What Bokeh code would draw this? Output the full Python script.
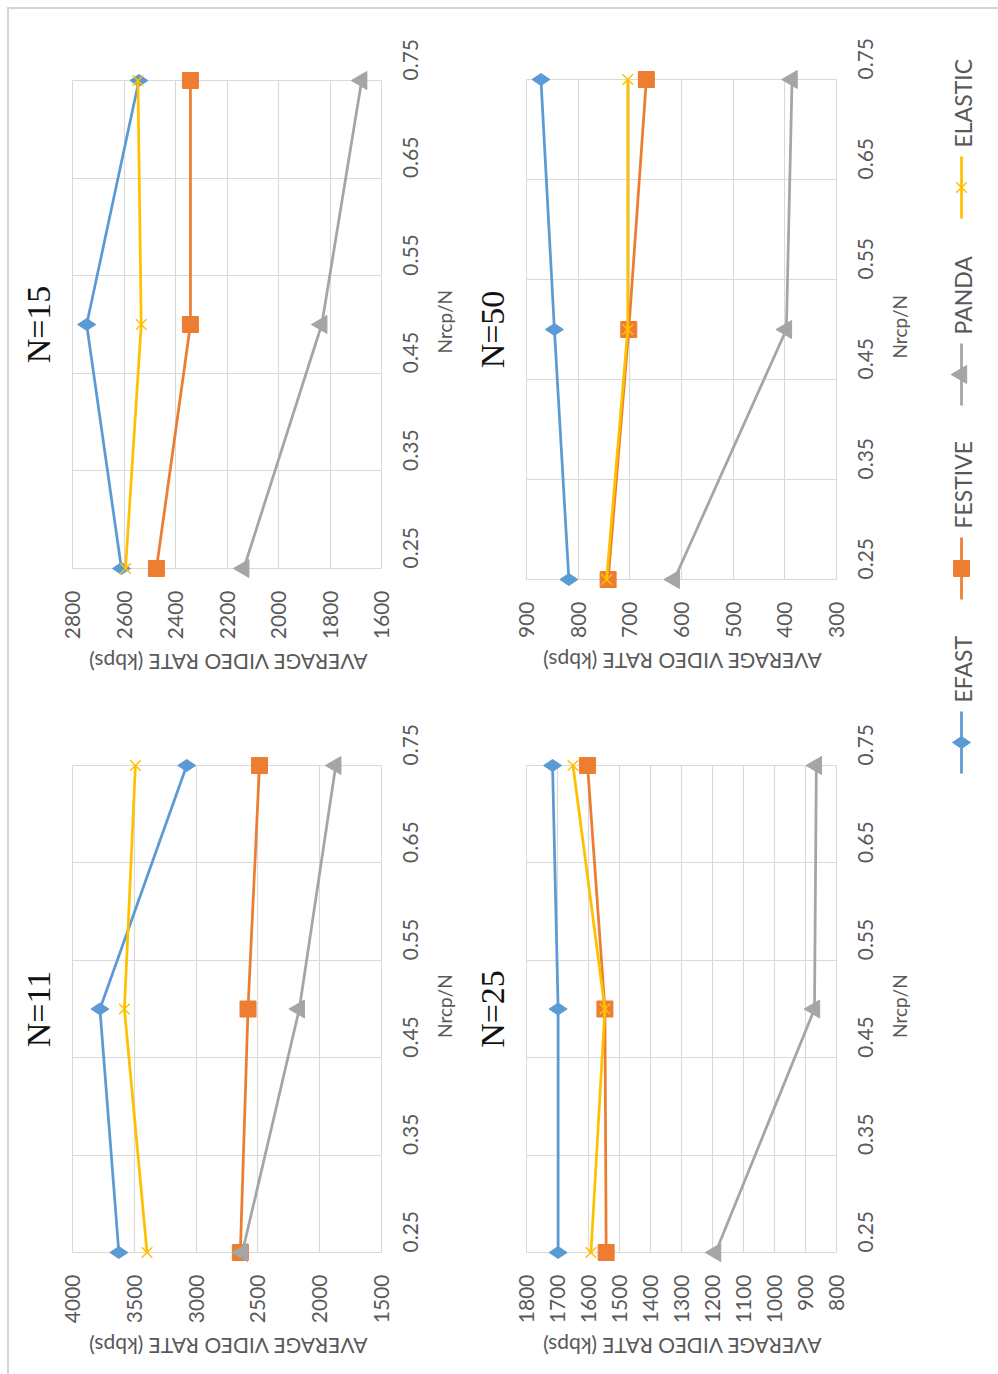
import math

from bokeh.plotting import figure
from bokeh.models import (Range1d, FixedTicker, Title, LinearAxis,
                          CustomJSTickFormatter)
from bokeh.layouts import row, column
from bokeh.embed import file_html
from bokeh.resources import INLINE
from bokeh.core.properties import value

# ---- data -----------------------------------------------------------------
ratio = [0.25, 0.50, 0.75]                      # Nrcp/N
ratio_ticks = [0.25, 0.35, 0.45, 0.55, 0.65, 0.75]

series_names = ["EFAST", "FESTIVE", "PANDA", "ELASTIC"]

# average video rate (kbps) per ratio, N = 11
n11_efast = [3625, 3778, 3076]
n11_festive = [2642, 2580, 2487]
n11_panda = [2626, 2165, 1870]
n11_elastic = [3397, 3580, 3491]
rate_ticks_n11 = [4000, 3500, 3000, 2500, 2000, 1500]

# N = 15
n15_efast = [2610, 2745, 2542]
n15_festive = [2474, 2342, 2342]
n15_panda = [2135, 1832, 1677]
n15_elastic = [2594, 2533, 2546]
rate_ticks_n15 = [2800, 2600, 2400, 2200, 2000, 1800, 1600]

# N = 25
n25_efast = [1698, 1698, 1716]
n25_festive = [1543, 1547, 1603]
n25_panda = [1190, 871, 865]
n25_elastic = [1592, 1547, 1650]
rate_ticks_n25 = [1800, 1700, 1600, 1500, 1400, 1300, 1200, 1100, 1000, 900, 800]

# N = 50
n50_efast = [818, 846, 872]
n50_festive = [742, 702, 668]
n50_panda = [614, 397, 386]
n50_elastic = [745, 704, 704]
rate_ticks_n50 = [900, 800, 700, 600, 500, 400, 300]

rate_axis_title = "AVERAGE VIDEO RATE (kbps)"
ratio_axis_title = "Nrcp/N"

# ---- styling --------------------------------------------------------------
COLORS = ["#5b9bd5", "#ed7d31", "#a5a5a5", "#ffc000"]
MARKERS = ["diamond", "square", "triangle", "x"]
MARKER_SIZES = [18, 16, 18, 15]
GRID = "#d9d9d9"
TEXT = "#595959"
FONT = "Lato"
ROT = math.pi / 2          # the whole sheet is turned a quarter turn


def plain_axis(ax, orientation, standoff, size):
    ax.axis_line_color = None
    ax.major_tick_line_color = None
    ax.minor_tick_line_color = None
    ax.major_tick_out = 0
    ax.major_tick_in = 0
    ax.major_label_orientation = orientation
    ax.major_label_standoff = standoff
    ax.major_label_text_font = FONT
    ax.major_label_text_font_size = size
    ax.major_label_text_color = TEXT


def title_axis(tick, label, orientation, standoff, size):
    """A tick-less axis whose single label carries the axis title."""
    ax = LinearAxis(ticker=FixedTicker(ticks=[tick]),
                    formatter=CustomJSTickFormatter(args=dict(label=label),
                                                    code="return label"))
    plain_axis(ax, orientation, standoff, size)
    return ax


def make_panel(title, values, rate_ticks, width, height, border):
    left, right, top, bottom = border
    frame_w = width - left - right
    frame_h = height - top - bottom
    r_max, r_min = max(rate_ticks), min(rate_ticks)
    y0, y1 = ratio_ticks[0], ratio_ticks[-1]
    p = figure(width=width, height=height,
               x_range=Range1d(r_max, r_min),
               y_range=Range1d(y0, y1),
               x_axis_location="below", y_axis_location="right",
               output_backend="svg", toolbar_location=None,
               min_border_left=left, min_border_right=right,
               min_border_top=top, min_border_bottom=bottom,
               border_fill_alpha=0, outline_line_color=GRID,
               outline_line_width=1)
    p.xaxis.ticker = FixedTicker(ticks=rate_ticks)
    p.yaxis.ticker = FixedTicker(ticks=ratio_ticks)
    plain_axis(p.xaxis[0], ROT, 22, "21px")
    plain_axis(p.yaxis[0], ROT, 29, "21px")

    for g in (p.xgrid[0], p.ygrid[0]):
        g.grid_line_color = GRID
        g.grid_line_width = 1.2

    # axis titles: the upside-down title ends 16 px in from the frame's
    # left edge, the turned ratio title starts 29 px below the frame centre
    px_x = (r_max - r_min) / frame_w
    px_y = (y1 - y0) / frame_h
    p.add_layout(title_axis(round(r_max - 16 * px_x), rate_axis_title,
                            math.pi, 20, "21px"), "below")
    p.add_layout(title_axis(round((y0 + y1) / 2 - 29 * px_y, 5), ratio_axis_title,
                            ROT, 16, "19px"), "right")

    p.add_layout(Title(text=title, text_font="Liberation Serif",
                       text_font_size="34px", text_font_style="normal",
                       text_color="#111111", align="center", standoff=32),
                 "left")

    for vals, color, marker, size in zip(values, COLORS, MARKERS, MARKER_SIZES):
        p.line(vals, ratio, line_color=color, line_width=2.75, level="overlay")
        p.scatter(vals, ratio, marker=marker, size=size, angle=ROT,
                  fill_color=color, line_color=color,
                  line_width=1.5 if marker == "x" else 1, level="overlay")
    return p


p15 = make_panel("N=15", [n15_efast, n15_festive, n15_panda, n15_elastic],
                 rate_ticks_n15, 470, 690, (72, 87, 80, 121))
p11 = make_panel("N=11", [n11_efast, n11_festive, n11_panda, n11_elastic],
                 rate_ticks_n11, 470, 684, (72, 87, 75, 120))
p50 = make_panel("N=50", [n50_efast, n50_festive, n50_panda, n50_elastic],
                 rate_ticks_n50, 485, 690, (70, 104, 79, 111))
p25 = make_panel("N=25", [n25_efast, n25_festive, n25_panda, n25_elastic],
                 rate_ticks_n25, 485, 684, (70, 104, 75, 120))

# ---- legend strip (entries read bottom to top) -----------------------------
LEG_W, LEG_H = 58, 1374
legend_centers = [742, 568, 374, 187]     # pixel rows of each legend sample
leg = figure(width=LEG_W, height=LEG_H,
             x_range=Range1d(0, LEG_W), y_range=Range1d(LEG_H, 0),
             x_axis_location=None, y_axis_location=None,
             output_backend="svg", toolbar_location=None,
             min_border=0, outline_line_color=None,
             background_fill_alpha=0, border_fill_alpha=0)
leg.grid.visible = False
for name, color, marker, size, yc in zip(series_names, COLORS, MARKERS,
                                         MARKER_SIZES, legend_centers):
    leg.segment(x0=[21], y0=[yc - 31], x1=[21], y1=[yc + 31],
                line_color=color, line_width=2.75)
    leg.scatter([21], [yc], marker=marker, size=size, angle=ROT,
                fill_color=color, line_color=color,
                line_width=1.5 if marker == "x" else 1)
    leg.text([22], [yc - 40], text=[name], angle=ROT,
             text_align="left", text_baseline="middle",
             text_font=value(FONT), text_font_size="23px", text_color=TEXT)

# the second column slides 15 px under the first one's empty right margin
page = row(column(p15, p11), column(p50, p25, margin=(0, 0, 0, -15)), leg,
           styles={"background":
                   "linear-gradient(#d4d4d4,#d4d4d4) 7px 7px / 2px 100% no-repeat, "
                   "linear-gradient(#d4d4d4,#d4d4d4) 7px 7px / 100% 2px no-repeat, "
                   "#ffffff"})

open("out.html", "w").write(file_html(page, INLINE))
